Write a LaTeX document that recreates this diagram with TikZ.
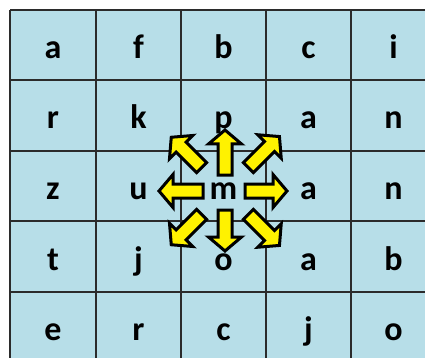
\documentclass[tikz,border=0pt]{standalone}
\usepackage{fontspec}
\setmainfont{Carlito}
\definecolor{cellblue}{HTML}{B7DEE8}
\definecolor{gridline}{HTML}{2B2B2B}
\begin{document}
\begin{tikzpicture}[x=1pt,y=-1pt,
  letter/.style={anchor=base, font=\fontsize{34}{34}\selectfont\bfseries, text=black, inner sep=0pt},
  yarrow/.style={fill=yellow, draw=black, line width=3pt, line join=miter}]
\useasboundingbox (0,0) rectangle (425,358);
\clip (0,0) rectangle (425,358);
\fill[white] (0,0) rectangle (425,358);
\fill[cellblue] (10,10) rectangle (436,362);
% grid lines
\foreach \x in {10,96,181,266,351,436}
  \draw[gridline, line width=1.5pt] (\x,10) -- (\x,362);
\foreach \y in {10,80,151,221,292,362}
  \draw[gridline, line width=1.5pt] (10,\y) -- (436,\y);
% letters
\foreach \row/\yc in {1/45,2/115.5,3/186,4/256.5,5/327}{
  \foreach \col/\xc in {1/53,2/138.5,3/223.5,4/308.5,5/393.5}{
    \coordinate (c\row\col) at (\xc,\yc);
  }
}
\foreach \row/\letters in {1/{a,f,b,c,i},2/{r,k,p,a,n},3/{z,u,m,a,n},4/{t,j,o,a,b},5/{e,r,c,j,o}}{
  \foreach \l [count=\col] in \letters {
    \node[letter] (t\row\col) at ([yshift=-13.5pt]c\row\col) {\l};
  }
}
% arrows
\coordinate (ctr) at (225,191);
\foreach \a/\ra/\rb in {0/20/62, 90/16/61, 180/22/66, 270/19/60, 45/33/77, 135/33/76, 225/33/76, 315/33/77}{
  \begin{scope}[shift={(ctr)}, rotate=\a]
    \draw[yarrow] (\ra,-7) -- ({\rb-14},-7) -- ({\rb-14},-16.5) -- (\rb,0)
      -- ({\rb-14},16.5) -- ({\rb-14},7) -- (\ra,7) -- cycle;
  \end{scope}
}
\end{tikzpicture}
\end{document}
